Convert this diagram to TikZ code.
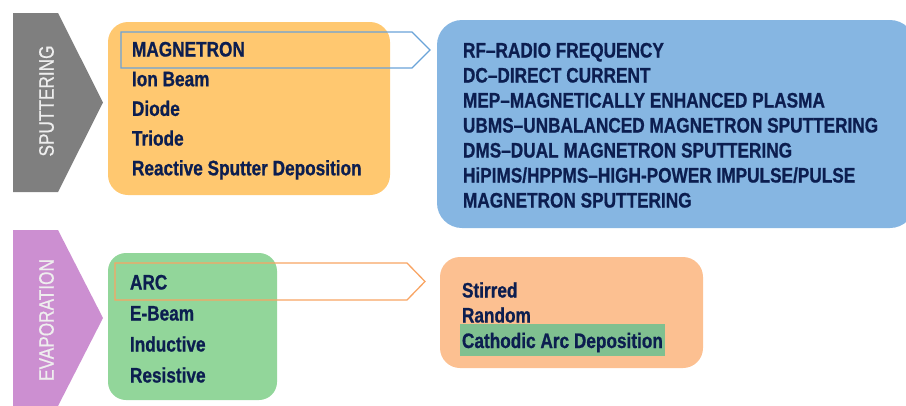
\documentclass[tikz,border=0pt]{standalone}
\usepackage{fontspec}
\setmainfont{Liberation Sans}[FakeStretch=0.82,BoldFeatures={FakeBold=0.8}]
\newfontfamily\tagfont{Liberation Sans}[FakeStretch=0.82,FakeBold=0.6]
\usetikzlibrary{positioning}

\definecolor{ink}{HTML}{0C1E50}
\definecolor{sputgrey}{HTML}{7F7F7F}
\definecolor{evappurple}{HTML}{CC8FD1}
\definecolor{tagtext}{HTML}{EEEEEE}
\definecolor{sputorange}{HTML}{FFC870}
\definecolor{magblue}{HTML}{86B6E2}
\definecolor{evapgreen}{HTML}{92D69A}
\definecolor{arcpeach}{HTML}{FCC091}
\definecolor{markgreen}{HTML}{80C090}
\definecolor{bluepointer}{HTML}{6AA3D8}
\definecolor{orangepointer}{HTML}{F8A463}

\begin{document}
\begin{tikzpicture}[x=1pt,y=-1pt,
  panel/.style={anchor=north west,inner sep=0pt,outer sep=0pt,rounded corners=20pt},
  item/.style={anchor=west,inner sep=0pt,outer sep=0pt,text height=15pt,text depth=0pt,
    text=ink,font=\fontsize{21}{25}\selectfont\bfseries},
  tag/.style={rotate=90,inner sep=0pt,text=tagtext,font=\fontsize{21}{25}\selectfont\tagfont},
  pointer/.style={line width=1.3pt,line join=miter}]
  \useasboundingbox (0,0) rectangle (906,405);

  % side tags
  \fill[sputgrey] (13,13) -- (58,13) -- (103,102.5) -- (58,192) -- (13,192) -- cycle;
  \fill[evappurple] (13,230) -- (58,230) -- (103,318) -- (58,406) -- (13,406) -- cycle;
  \node[tag] (sput) at (46.5,101) {SPUTTERING};
  \node[tag] (evap) at (46.5,320) {EVAPORATION};

  % panels
  \node[panel,fill=sputorange,minimum width=282pt,minimum height=173pt] (sputbox) at (108,22) {};
  \node[panel,fill=magblue,rounded corners=25pt,minimum width=478pt,minimum height=208pt] (magbox) at (437,20) {};
  \node[panel,fill=evapgreen,rounded corners=18pt,minimum width=169pt,minimum height=147pt] (evapbox) at (108,253) {};
  \node[panel,fill=arcpeach,minimum width=263pt,minimum height=111pt] (arcbox) at (440,257) {};

  % pointers
  \draw[pointer,bluepointer] (121,32) -- (412,32) -- (430,50) -- (412,68) -- (121,68) -- cycle;
  \draw[pointer,orangepointer] (115,263) -- (407,263) -- (425,281.5) -- (407,300) -- (115,300) -- cycle;

  % sputtering list
  \node[item] (mag) at (132,49) {MAGNETRON};
  \node[item] (ion) [below=29.7pt of mag.west,anchor=west] {Ion Beam};
  \node[item] (dio) [below=29.7pt of ion.west,anchor=west] {Diode};
  \node[item] (tri) [below=29.7pt of dio.west,anchor=west] {Triode};
  \node[item] (rsd) [below=29.7pt of tri.west,anchor=west] {Reactive Sputter Deposition};

  % magnetron types
  \node[item] (rf) at (463,50) {RF--RADIO FREQUENCY};
  \node[item] (dc) [below=25pt of rf.west,anchor=west] {DC--DIRECT CURRENT};
  \node[item] (mep) [below=25pt of dc.west,anchor=west] {MEP--MAGNETICALLY ENHANCED PLASMA};
  \node[item] (ubms) [below=25pt of mep.west,anchor=west] {UBMS--UNBALANCED MAGNETRON SPUTTERING};
  \node[item] (dms) [below=25pt of ubms.west,anchor=west] {DMS--DUAL MAGNETRON SPUTTERING};
  \node[item] (hip) [below=25pt of dms.west,anchor=west] {HiPIMS/HPPMS--HIGH-POWER IMPULSE/PULSE};
  \node[item] (hip2) [below=25pt of hip.west,anchor=west] {MAGNETRON SPUTTERING};

  % evaporation list
  \node[item] (arc) at (130,282) {ARC};
  \node[item] (ebm) [below=31pt of arc.west,anchor=west] {E-Beam};
  \node[item] (ind) [below=31pt of ebm.west,anchor=west] {Inductive};
  \node[item] (res) [below=31pt of ind.west,anchor=west] {Resistive};

  % arc types
  \node[item] (sti) at (462,290) {Stirred};
  \node[item] (rnd) [below=25pt of sti.west,anchor=west] {Random};
  \node[item,fill=markgreen,inner xsep=2.5pt,text height=24pt,text depth=8pt]
    (cad) [below=25pt of rnd.west,anchor=west,xshift=-2.5pt] {Cathodic Arc Deposition};
\end{tikzpicture}
\end{document}
